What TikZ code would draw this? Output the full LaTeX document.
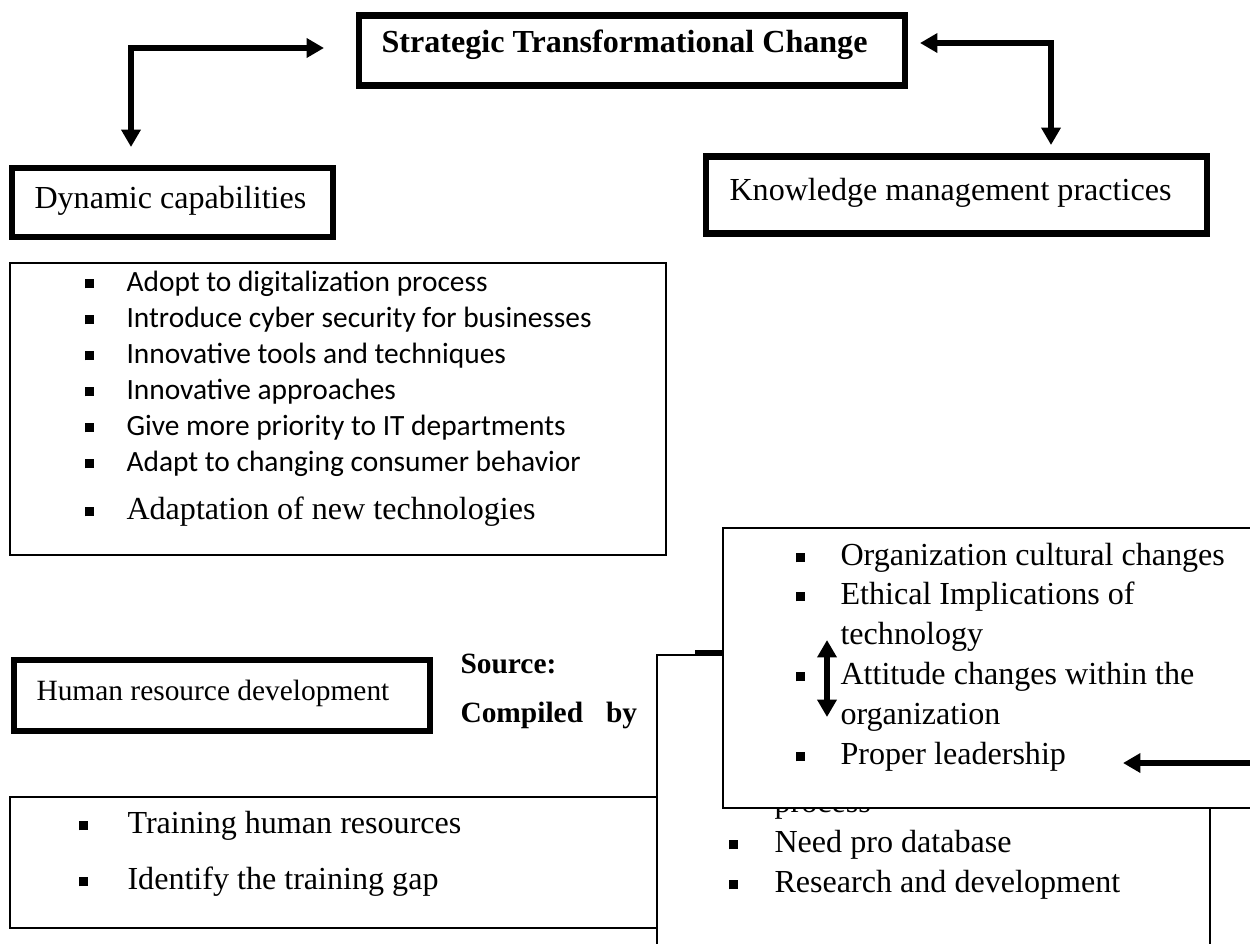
\documentclass[tikz,border=0pt]{standalone}
\usepackage{fontspec}
\setmainfont{Liberation Serif}
\newfontfamily\calibri{Carlito}
\usetikzlibrary{arrows.meta,fit}

% square bullet hung left of the item text
\newcommand{\itm}[1][13pt]{\llap{\rule[1pt]{3.4pt}{3.4pt}\hspace{#1}}}

\begin{document}
\begin{tikzpicture}[x=0.374pt, y=-0.374pt,
    thickbox/.style={draw, rectangle, line width=2.5pt, inner sep=0pt},
    thinbox/.style={draw, rectangle, line width=0.9pt, inner sep=0pt, fill=white},
    txt/.style={anchor=base west, inner sep=0pt, font=\fontsize{12}{14}\selectfont},
    smalltxt/.style={txt, font=\fontsize{11}{13}\selectfont},
    cbtxt/.style={txt, font=\calibri\fontsize{11}{13}\selectfont},
    conn/.style={line width=2.5pt, -{Triangle[length=6.5pt, width=7pt]}},
    twoway/.style={line width=2.5pt, {Triangle[length=6.5pt, width=7pt]}-{Triangle[length=6.5pt, width=7pt]}}]
    \useasboundingbox (0,0) rectangle (1250,943);
    \clip (0,0) rectangle (1250,943);
    \fill[white] (0,0) rectangle (1250,943);

    % Top row
    \node[thickbox, fit={(359,15.5) (905,85.5)}] (title) {};
    \node[txt, font=\bfseries\fontsize{12}{14}\selectfont] (titletxt) at (381,52) {Strategic Transformational Change};
    \node[thickbox, fit={(12,168) (333,237)}] (dyn) {};
    \node[txt] (dyntxt) at (34,208) {Dynamic capabilities};
    \node[thickbox, fit={(706,156.5) (1207,233.5)}] (know) {};
    \node[txt] (knowtxt) at (729,200) {Knowledge management practices};

    % Dynamic capabilities list
    \node[thinbox, fit={(10,263) (666,555)}] (dynlist) {};
    \node[cbtxt] (d1) at (126,291) {\itm[12.3pt]Adopt to digitalization process};
    \node[cbtxt] (d2) at (126,327) {\itm[12.3pt]Introduce cyber security for businesses};
    \node[cbtxt] (d3) at (126,363) {\itm[12.3pt]Innovative tools and techniques};
    \node[cbtxt] (d4) at (126,399) {\itm[12.3pt]Innovative approaches};
    \node[cbtxt] (d5) at (126,435) {\itm[12.3pt]Give more priority to IT departments};
    \node[cbtxt] (d6) at (126,471) {\itm[12.3pt]Adapt to changing consumer behavior};
    \node[txt] (d7) at (126,519) {\itm[12.3pt]Adaptation of new technologies};

    % Human resources
    \node[thickbox, fit={(14,660) (430,731)}] (hr) {};
    \node[smalltxt] (hrtxt) at (36,700) {Human resource development};
    \node[smalltxt, font=\bfseries\fontsize{11}{13}\selectfont] (src) at (460,673) {Source:};
    \node[smalltxt, font=\bfseries\fontsize{11}{13}\selectfont] (comp) at (460,722) {Compiled\hspace{8.6pt}by};
    \node[thinbox, fit={(10,797) (700,928)}] (hrlist) {};
    \node[txt] (h1) at (127,833) {\itm[14.7pt]Training human resources};
    \node[txt] (h2) at (127,889) {\itm[14.7pt]Identify the training gap};

    % Knowledge list (lower part)
    \node[thinbox, fit={(657,655) (1210,990)}] (hid) {};
    \draw[line width=1.9pt] (695,653) -- (780,653);
    \node[txt] (k0) at (774,812) {process};
    \node[txt] (k1) at (774,852) {\itm[13.6pt]Need pro database};
    \node[txt] (k2) at (774,892) {\itm[13.6pt]Research and development};

    % Knowledge list (upper part)
    \node[thinbox, fit={(723,528) (1280,808)}] (over) {};
    \node[txt] (o1) at (840,565) {\itm[13.2pt]Organization cultural changes};
    \node[txt] (o2) at (840,604) {\itm[13.2pt]Ethical Implications of};
    \node[txt] (o3) at (840,644) {technology};
    \node[txt] (o4) at (840,684) {\itm[13.2pt]Attitude changes within the};
    \node[txt] (o5) at (840,724) {organization};
    \node[txt] (o6) at (840,764) {\itm[13.2pt]Proper leadership};

    % Arrows
    \coordinate (ltip) at (324,48);
    \coordinate (dtip) at (131,147);
    \coordinate (rtip) at (920,43);
    \coordinate (ktip) at (1051,145);
    \coordinate (up) at (827,640);
    \coordinate (dn) at (827,717);
    \coordinate (pstart) at (1262,763);
    \coordinate (ptip) at (1123,763);
    \draw[twoway] (ltip) -| (dtip);
    \draw[twoway] (rtip) -| (ktip);
    \draw[twoway] (up) -- (dn);
    \draw[conn] (pstart) -- (ptip);
\end{tikzpicture}
\end{document}
